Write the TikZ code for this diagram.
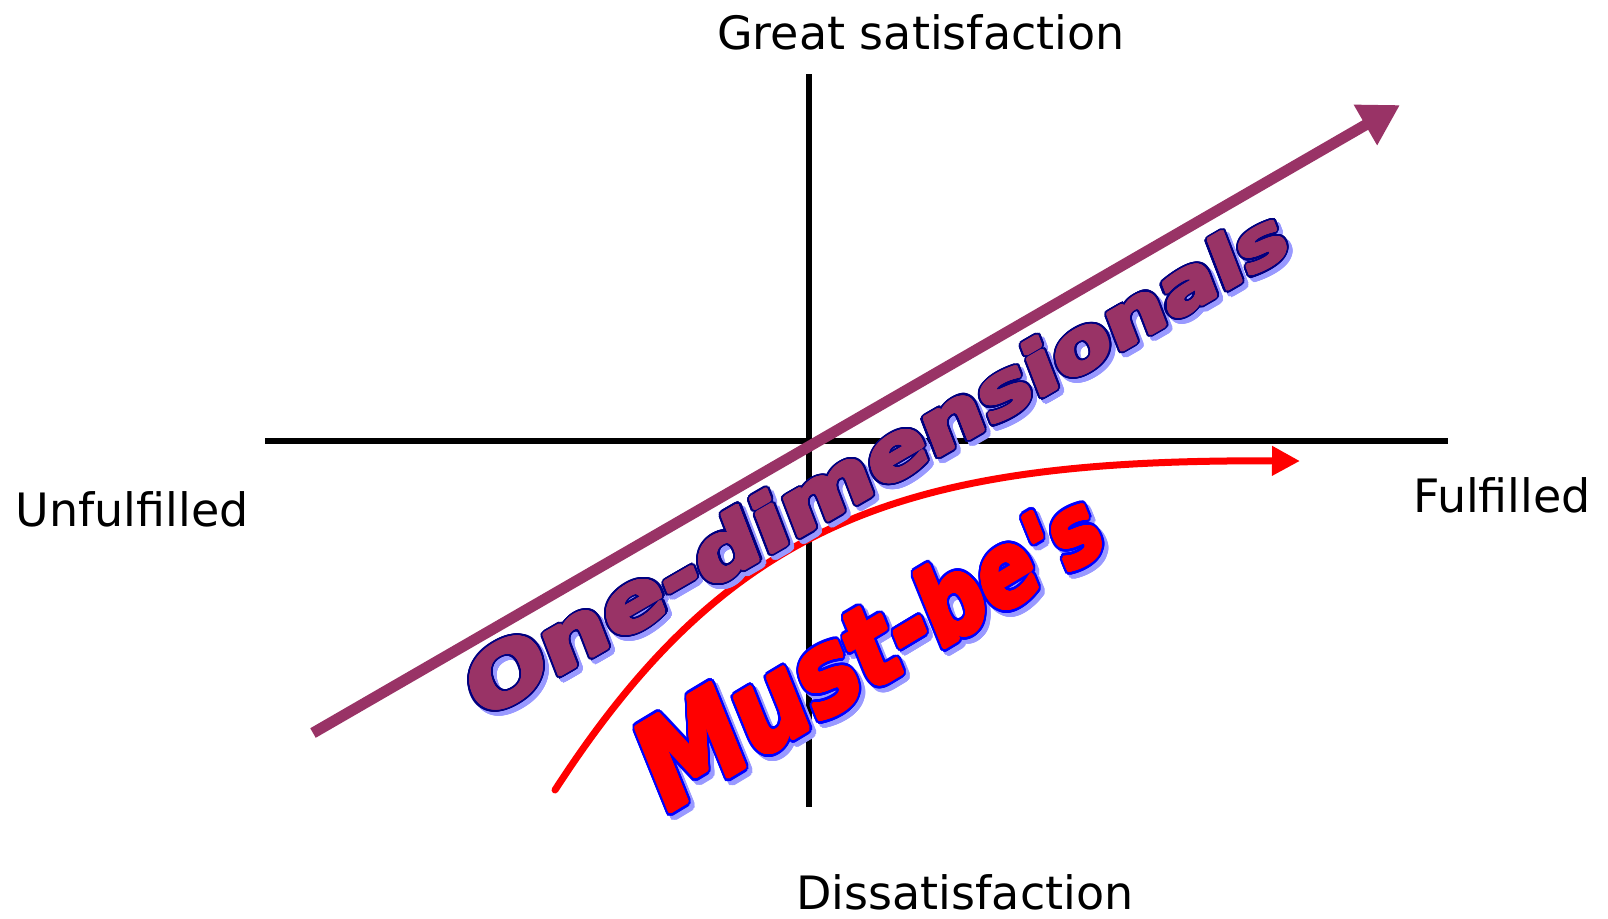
\documentclass[tikz,border=0pt]{standalone}
\usepackage{fontspec}
\setmainfont{DejaVu Sans}
\newfontfamily\wafont{DejaVu Sans}
\usepackage{contour}
\contournumber{36}
\usetikzlibrary{arrows.meta}
\definecolor{plum}{HTML}{993366}
\definecolor{wanavy}{HTML}{000080}
\definecolor{washadow}{HTML}{9999FF}
\definecolor{wared}{HTML}{FF0000}
\definecolor{wablue}{HTML}{0000FF}
\newcommand\waLayer[3]{{\contourlength{#1}\color{#2}\contour{#2}{#3}}}
\newcommand\odword{\scalebox{1.08}{O}\scalebox{1.07}{n}\scalebox{1.06}{e}\scalebox{1.05}{-}\scalebox{1.04}{d}\scalebox{1.03}{i}\scalebox{1.02}{m}\scalebox{1.01}{e}n\scalebox{0.99}{s}\scalebox{0.98}{i}\scalebox{0.97}{o}\scalebox{0.96}{n}\scalebox{0.95}{a}\scalebox{0.94}{l}\scalebox{0.93}{s}}
\newcommand\mbword{\scalebox{1.14}{M}\scalebox{1.10}{u}\scalebox{1.06}{s}\scalebox{1.02}{t}\scalebox{0.99}{-}\scalebox{0.96}{b}\scalebox{0.93}{e}\scalebox{0.90}{\char"27}\scalebox{0.88}{s}}
\begin{document}
\begin{tikzpicture}[x=0.75pt,y=-0.75pt,
  axis/.style={line width=4pt, black},
  lbl/.style={font=\fontsize{34.5}{40}\selectfont, anchor=base, inner sep=0pt},
  odtext/.style={font=\wafont\bfseries\fontsize{66.75}{70}\selectfont, anchor=base, inner sep=0pt,
     cm={0.895,0.517,-0.30,0.78,(0,0)}},
  mbtext/.style={font=\wafont\bfseries\fontsize{68}{70}\selectfont, anchor=base, inner sep=0pt,
     cm={0.883,0.53,-0.45,1.11,(0,0)}}]
\useasboundingbox (0,0) rectangle (1608,918);
% axes
\coordinate (xl) at (265,441);
\coordinate (xr) at (1448,441);
\coordinate (yt) at (809,74);
\coordinate (yb) at (809,807);
\draw[axis] (xl) -- (xr);
\draw[axis] (yt) -- (yb);
% labels
\node[lbl] (great) at (921,49) {Great satisfaction};
\node[lbl] (dis) at (965,909) {Dissatisfaction};
\node[lbl] (unf) at (132,526) {Unfulfilled};
\node[lbl] (ful) at (1502,512) {Fulfilled};
% purple arrow
\coordinate (ps) at (313,733);
\coordinate (pe) at (1400,105);
\draw[plum, line width=8.25pt, -{Triangle[length=30pt,width=33pt]}] (ps) -- (pe);
% red curve
\coordinate (rs) at (555,790);
\coordinate (rc1) at (730,520);
\coordinate (rc2) at (905,459);
\coordinate (re) at (1300,461);
\draw[wared, line width=5.25pt, line cap=round, -{Triangle[length=21pt,width=21pt]}] (rs) .. controls (rc1) and (rc2) .. (re);
% word art: One-dimensionals
\node[odtext] (odshadow) at (890,491) {\waLayer{3.2pt}{washadow}{\odword}};
\node[odtext] (odline) at (886,487) {\waLayer{3.2pt}{wanavy}{\odword}};
\node[odtext] (od) at (886,487) {\waLayer{1.4pt}{plum}{\odword}};
% word art: Must-be's
\node[mbtext] (mbshadow) at (889,687) {\waLayer{3.2pt}{washadow}{\mbword}};
\node[mbtext] (mbline) at (885,683) {\waLayer{3.2pt}{wablue}{\mbword}};
\node[mbtext] (mb) at (885,683) {\waLayer{1.4pt}{wared}{\mbword}};
\end{tikzpicture}
\end{document}
